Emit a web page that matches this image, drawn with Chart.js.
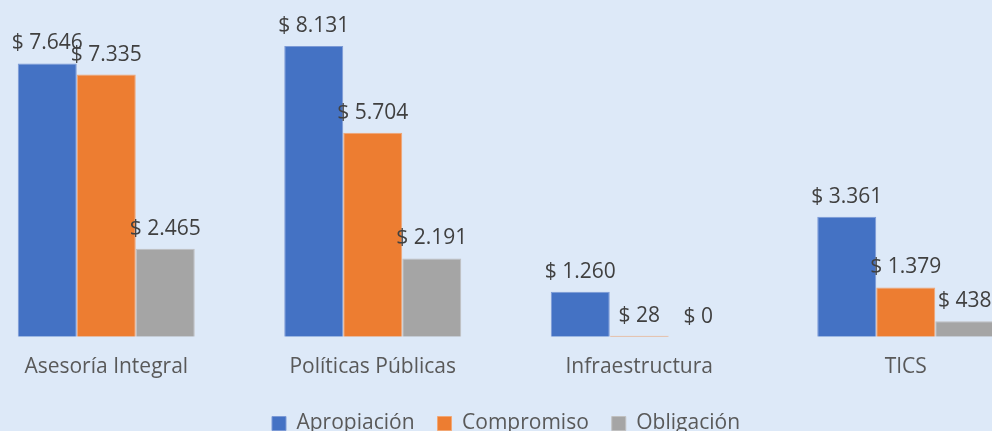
<!DOCTYPE html>
<html>
<head>
<meta charset="utf-8">
<script src="https://cdn.jsdelivr.net/npm/chart.js@4"></script>
<style>
  html, body { margin: 0; padding: 0; background: #dde9f8; }
  #wrap { position: relative; width: 992px; height: 431px; overflow: hidden; background: #dde9f8; }
  #box { position: absolute; left: -27px; top: 0; width: 1066px; height: 444px; }
</style>
</head>
<body>
<div id="wrap"><div id="box"><canvas id="chart"></canvas></div></div>
<script>
const categories = ['Asesoría Integral', 'Políticas Públicas', 'Infraestructura', 'TICS'];
const apropiacion = [7646, 8131, 1260, 3361];
const compromiso = [7335, 5704, 28, 1379];
const obligacion = [2465, 2191, 0, 438];

const fmt = v => '$ ' + v.toLocaleString('de-DE');

const valueLabels = {
    id: 'valueLabels',
    afterDatasetsDraw(chart) {
        const ctx = chart.ctx;
        ctx.save();
        ctx.font = '21px "Open Sans", sans-serif';
        ctx.fillStyle = '#404040';
        ctx.textAlign = 'center';
        ctx.textBaseline = 'alphabetic';
        chart.data.datasets.forEach((ds, i) => {
            chart.getDatasetMeta(i).data.forEach((bar, j) => {
                ctx.fillText(fmt(ds.data[j]), bar.x, bar.y - 14);
            });
        });
        ctx.restore();
    }
};

new Chart(document.getElementById('chart').getContext('2d'), {
    type: 'bar',
    data: {
        labels: categories,
        datasets: [{
            label: 'Apropiación',
            data: apropiacion,
            backgroundColor: '#4472c4',
            borderColor: '#7c9ad6',
            borderWidth: 1
        }, {
            label: 'Compromiso',
            data: compromiso,
            backgroundColor: '#ed7d31',
            borderColor: '#f2a774',
            borderWidth: 1
        }, {
            label: 'Obligación',
            data: obligacion,
            backgroundColor: '#a5a5a5',
            borderColor: '#c0c0c0',
            borderWidth: 1
        }]
    },
    options: {
        responsive: true,
        maintainAspectRatio: false,
        animation: false,
        layout: { padding: { top: 15, bottom: 0 } },
        datasets: {
            bar: { categoryPercentage: 177 / 266.5, barPercentage: 1 }
        },
        scales: {
            x: {
                grid: { display: false },
                border: { display: false },
                ticks: {
                    color: '#595959',
                    font: { size: 21, family: '"Open Sans", sans-serif' },
                    padding: 10
                }
            },
            y: {
                display: false,
                min: 0,
                max: 9000
            }
        },
        plugins: {
            legend: {
                position: 'bottom',
                labels: {
                    color: '#595959',
                    font: { size: 21, family: '"Open Sans", sans-serif' },
                    boxWidth: 14,
                    boxHeight: 14,
                    padding: 23
                }
            },
            tooltip: { enabled: false }
        }
    },
    plugins: [valueLabels]
});
</script>
</body>
</html>
